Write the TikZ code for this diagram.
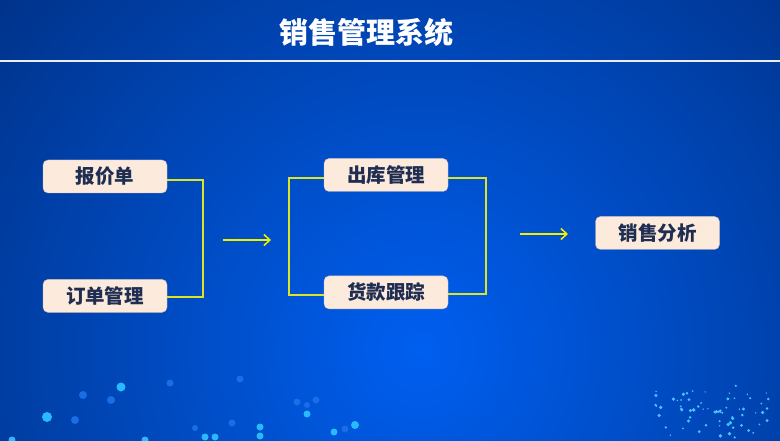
\documentclass[tikz,border=0pt]{standalone}
\usepackage{fontspec}
\newfontfamily\cjk{Noto Sans CJK SC}
\usetikzlibrary{positioning, arrows.meta}

\definecolor{bgdark}{RGB}{0,18,62}
\definecolor{bglight}{RGB}{0,95,240}
\definecolor{boxfill}{RGB}{252,234,221}
\definecolor{boxtext}{RGB}{30,45,80}
\definecolor{linkline}{RGB}{220,228,40}
\definecolor{arrowcol}{RGB}{240,240,0}
\definecolor{dotcyan}{RGB}{40,185,255}
\definecolor{dotdim}{RGB}{25,110,230}

\tikzset{
  item/.style={draw=boxfill!80!black, fill=boxfill, rounded corners=5pt,
    minimum width=124pt, minimum height=33pt, inner sep=0pt,
    font=\cjk\bfseries\fontsize{19.5}{19.5}\selectfont, text=boxtext},
  bracket/.style={draw=linkline, line width=2pt},
  flow/.style={draw=arrowcol, line width=1.5pt, -{Straight Barb[length=6pt,width=11pt]}},
}

\begin{document}
\begin{tikzpicture}[x=1pt,y=-1pt]
    % 背景
    \useasboundingbox (0,0) rectangle (780,441);
    \begin{scope}
      \clip (0,0) rectangle (780,441);
      \shade[inner color=bglight, outer color=bgdark] (420,350) circle (960);
    \end{scope}

    % 点
    \foreach \x/\y/\r/\c in {121/387/4.5/dotcyan, 47/417/5/dotcyan, 75/420/4/dotdim,
        111/400/4/dotdim, 83/395/4/dotdim, 170/383/3.5/dotdim, 240/379/3.5/dotdim,
        307/414/3.5/dotcyan, 355/425/4/dotcyan, 297/402/3.5/dotdim, 316/400/3.5/dotdim,
        232/423/3.5/dotdim, 260/427/3.5/dotcyan, 260/436/3.5/dotcyan, 334/432/3.5/dotcyan,
        345/429/3.5/dotdim, 205/437/3.5/dotcyan, 215/437/3.5/dotcyan, 145/440/3.5/dotcyan,
        12/440/3.5/dotcyan, 195/428/3/dotdim, 307/405/3/dotdim}
      \fill[\c] (\x,\y) circle (\r);
    \pgfmathsetseed{11}
    \foreach \i in {1,...,70}
      \fill[dotcyan!85!white] ({655+115*rnd},{385+40*rnd+20*rnd}) circle ({0.7+1.3*rnd});

    % タイトル
    \node[font=\cjk\bfseries\fontsize{29}{29}\selectfont, text=white] (title) at (366,32) {销售管理系统};
    \draw[white!85!gray, line width=2pt] (0,61) -- (780,61);

    % ボックス
    \node[item] (baojia) at (105,176.5) {报价单};
    \node[item, below=86pt of baojia] (dingdan) {订单管理};
    \node[item] (chuku) at (386,175) {出库管理};
    \node[item, below=84pt of chuku] (huokuan) {货款跟踪};
    \node[item] (fenxi) at (657.5,233) {销售分析};

    % 線
    \draw[bracket] ([yshift=-3.5pt]baojia.east) -- ++(36,0) |- ([yshift=-1.5pt]dingdan.east);
    \draw[bracket] ([yshift=-3pt]chuku.west) -- ++(-35,0) |- ([yshift=-3pt]huokuan.west);
    \draw[bracket] ([yshift=-3pt]chuku.east) -- ++(38,0) |- ([yshift=-2pt]huokuan.east);

    % 矢印
    \coordinate (a1) at (223,240);
    \coordinate (b1) at (271,240);
    \coordinate (a2) at (520,234);
    \coordinate (b2) at (568,234);
    \draw[flow] (a1) -- (b1);
    \draw[flow] (a2) -- (b2);
\end{tikzpicture}
\end{document}
